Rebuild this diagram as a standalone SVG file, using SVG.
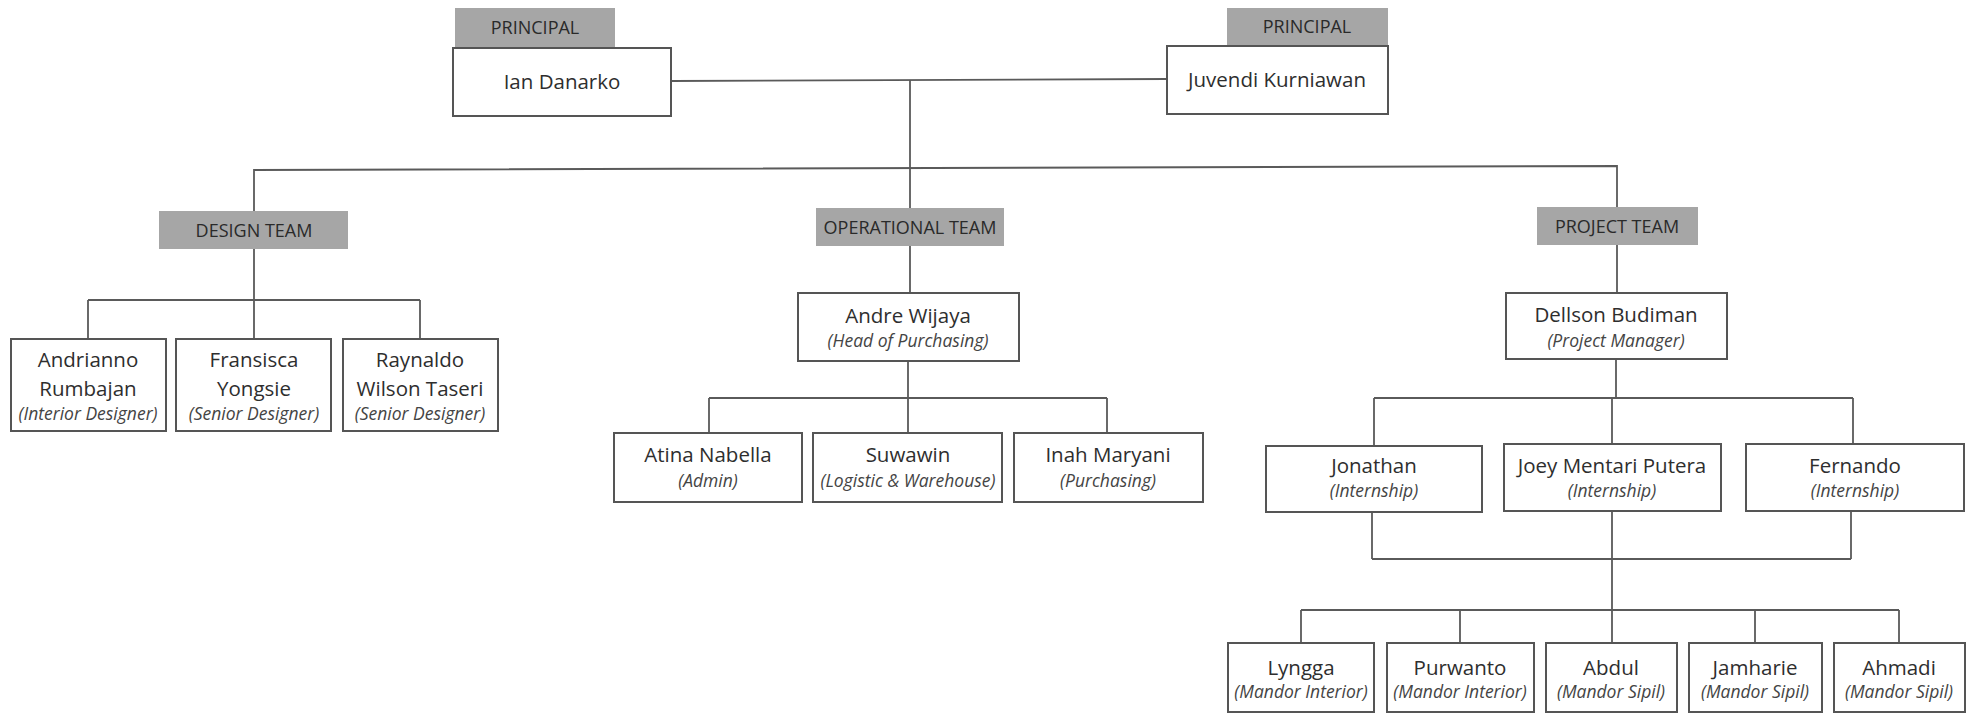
<svg xmlns="http://www.w3.org/2000/svg" width="1977" height="714" viewBox="0 0 1977 714">
<style>
.bg{fill:#ffffff}
.box{fill:#ffffff;stroke:#555555;stroke-width:2}
.tag{fill:#a6a6a6;stroke:none}
.tagt{font-family:"Open Sans","Liberation Sans",sans-serif;font-size:18px;fill:#2a2a2a;text-anchor:middle}
.name{font-family:"Open Sans","Liberation Sans",sans-serif;font-size:20.5px;fill:#2e2e2e;text-anchor:middle}
.role{font-family:"Open Sans","Liberation Sans",sans-serif;font-size:17.5px;font-style:italic;fill:#444444;text-anchor:middle}
.ln{fill:none;stroke:#5a5a5a;stroke-width:1.8}
</style>
<rect class="bg" x="0" y="0" width="1977" height="714"/>

<g id="connectors" class="ln">
<path d="M671,81 L1167,79"/>
<path d="M910,80 V208"/>
<path d="M254,211 V170 L1617,166 V207"/>
<path d="M254,249 V300 M88,300 H420 M88,300 V339 M254,300 V339 M420,300 V339"/>
<path d="M910,246 V293 M908,361 V398 M709,398 H1107 M709,398 V433 M908,398 V433 M1107,398 V433"/>
<path d="M1617,245 V293 M1616,359 V398 M1374,398 H1853 M1374,398 V446 M1612,398 V444 M1853,398 V444"/>
<path d="M1372,512 V559 M1851,511 V559 M1372,559 H1851 M1612,511 V643 M1301,610 H1899 M1301,610 V643 M1460,610 V643 M1755,610 V643 M1899,610 V643"/>
</g>

<g id="principal-ian">
<rect class="tag" x="455" y="8" width="160" height="40"/>
<text class="tagt" x="535" y="34">PRINCIPAL</text>
<rect class="box" x="453" y="48" width="218" height="68"/>
<text class="name" x="562" y="89">Ian Danarko</text>
</g>

<g id="principal-juvendi">
<rect class="tag" x="1227" y="8" width="161" height="38"/>
<text class="tagt" x="1307" y="33">PRINCIPAL</text>
<rect class="box" x="1167" y="46" width="221" height="68"/>
<text class="name" x="1277" y="87">Juvendi Kurniawan</text>
</g>

<g id="design-team">
<rect class="tag" x="159" y="211" width="189" height="38"/>
<text class="tagt" x="254" y="237">DESIGN TEAM</text>
</g>

<g id="operational-team">
<rect class="tag" x="816" y="208" width="188" height="38"/>
<text class="tagt" x="910" y="234">OPERATIONAL TEAM</text>
</g>

<g id="project-team">
<rect class="tag" x="1537" y="207" width="161" height="38"/>
<text class="tagt" x="1617" y="233">PROJECT TEAM</text>
</g>

<g id="andrianno">
<rect class="box" x="11" y="339" width="155" height="92"/>
<text class="name" x="88" y="367">Andrianno</text>
<text class="name" x="88" y="396">Rumbajan</text>
<text class="role" x="88" y="420">(Interior Designer)</text>
</g>

<g id="fransisca">
<rect class="box" x="176" y="339" width="155" height="92"/>
<text class="name" x="254" y="367">Fransisca</text>
<text class="name" x="254" y="396">Yongsie</text>
<text class="role" x="254" y="420">(Senior Designer)</text>
</g>

<g id="raynaldo">
<rect class="box" x="343" y="339" width="155" height="92"/>
<text class="name" x="420" y="367">Raynaldo</text>
<text class="name" x="420" y="396">Wilson Taseri</text>
<text class="role" x="420" y="420">(Senior Designer)</text>
</g>

<g id="andre">
<rect class="box" x="798" y="293" width="221" height="68"/>
<text class="name" x="908" y="323">Andre Wijaya</text>
<text class="role" x="908" y="347">(Head of Purchasing)</text>
</g>

<g id="atina">
<rect class="box" x="614" y="433" width="188" height="69"/>
<text class="name" x="708" y="462">Atina Nabella</text>
<text class="role" x="708" y="487">(Admin)</text>
</g>

<g id="suwawin">
<rect class="box" x="813" y="433" width="189" height="69"/>
<text class="name" x="908" y="462">Suwawin</text>
<text class="role" x="908" y="487">(Logistic &amp; Warehouse)</text>
</g>

<g id="inah">
<rect class="box" x="1014" y="433" width="189" height="69"/>
<text class="name" x="1108" y="462">Inah Maryani</text>
<text class="role" x="1108" y="487">(Purchasing)</text>
</g>

<g id="dellson">
<rect class="box" x="1506" y="293" width="221" height="66"/>
<text class="name" x="1616" y="322">Dellson Budiman</text>
<text class="role" x="1616" y="347">(Project Manager)</text>
</g>

<g id="jonathan">
<rect class="box" x="1266" y="446" width="216" height="66"/>
<text class="name" x="1374" y="473">Jonathan</text>
<text class="role" x="1374" y="497">(Internship)</text>
</g>

<g id="joey">
<rect class="box" x="1504" y="444" width="217" height="67"/>
<text class="name" x="1612" y="473">Joey Mentari Putera</text>
<text class="role" x="1612" y="497">(Internship)</text>
</g>

<g id="fernando">
<rect class="box" x="1746" y="444" width="218" height="67"/>
<text class="name" x="1855" y="473">Fernando</text>
<text class="role" x="1855" y="497">(Internship)</text>
</g>

<g id="lyngga">
<rect class="box" x="1228" y="643" width="146" height="69"/>
<text class="name" x="1301" y="675">Lyngga</text>
<text class="role" x="1301" y="698">(Mandor Interior)</text>
</g>

<g id="purwanto">
<rect class="box" x="1387" y="643" width="147" height="69"/>
<text class="name" x="1460" y="675">Purwanto</text>
<text class="role" x="1460" y="698">(Mandor Interior)</text>
</g>

<g id="abdul">
<rect class="box" x="1546" y="643" width="131" height="69"/>
<text class="name" x="1611" y="675">Abdul</text>
<text class="role" x="1611" y="698">(Mandor Sipil)</text>
</g>

<g id="jamharie">
<rect class="box" x="1689" y="643" width="133" height="69"/>
<text class="name" x="1755" y="675">Jamharie</text>
<text class="role" x="1755" y="698">(Mandor Sipil)</text>
</g>

<g id="ahmadi">
<rect class="box" x="1834" y="643" width="131" height="69"/>
<text class="name" x="1899" y="675">Ahmadi</text>
<text class="role" x="1899" y="698">(Mandor Sipil)</text>
</g>
</svg>
